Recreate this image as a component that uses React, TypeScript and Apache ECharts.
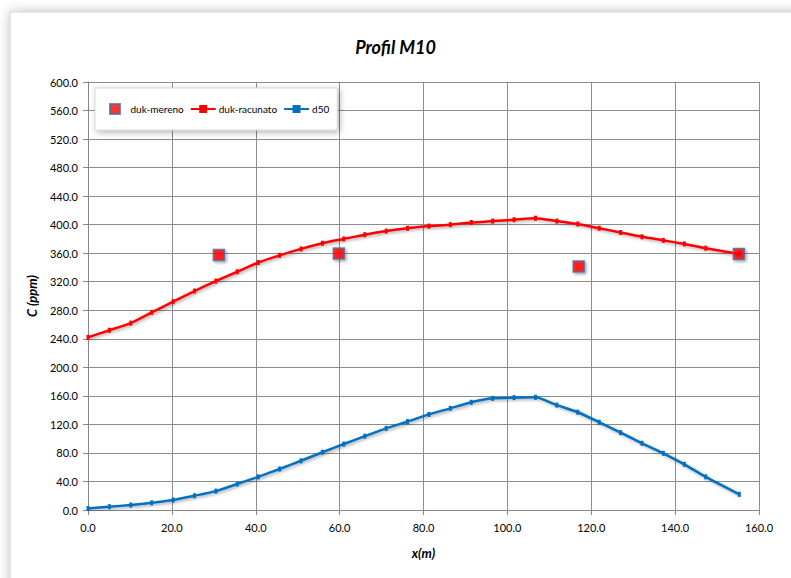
import React, { useEffect, useRef } from "react";
import * as echarts from "echarts";

const title = "Profil M10";
const xName = "x(m)";
const yName = "C (ppm)";
const seriesNames = ["duk-mereno", "duk-racunato", "d50"];

// measured points (x, C)
const measuredX = [31.2, 59.8, 117.0, 155.2];
const measuredY = [357.5, 359.5, 341.5, 359.0];

// computed profile x positions
const profileX = [
  0, 5.1, 10.2, 15.2, 20.3, 25.4, 30.5, 35.6, 40.6, 45.7, 50.8, 55.9, 61.0, 66.0, 71.1, 76.2,
  81.3, 86.4, 91.4, 96.5, 101.6, 106.7, 111.8, 116.8, 121.9, 127.0, 132.1, 137.2, 142.2, 147.3, 155.3,
];
const racunatoY = [
  242, 252, 262, 277, 292, 307, 321, 334, 347, 357, 366, 374, 380, 386, 391, 395,
  398, 400, 403, 405, 407, 409, 405, 401, 395, 389, 383, 378, 373, 367, 359,
];
const d50Y = [
  2, 4.6, 7, 10, 14, 20, 26.5, 36.5, 46.5, 57.5, 69, 81, 92.5, 103.5, 114.5, 124,
  134, 142.5, 151, 156.5, 157.5, 158, 147, 137, 123, 108.5, 93.5, 79.5, 64, 46.5, 22,
];

const FONT = "Lato, 'Open Sans', sans-serif";

export default function App() {
  const ref = useRef<HTMLDivElement>(null);
  useEffect(() => {
    if (!ref.current) return;
    const chart = echarts.init(ref.current, undefined, { renderer: "svg" });
    const pair = (xs: number[], ys: number[]) => xs.map((x, i) => [x, ys[i]]);
    chart.setOption({
      animation: false,
      backgroundColor: "#ffffff",
      textStyle: { fontFamily: FONT },
      graphic: [
        {
          type: "rect",
          z: -10,
          shape: { x: 10, y: 12, width: 800, height: 600 },
          style: {
            fill: "#ffffff",
            stroke: "#d0d0d0",
            lineWidth: 1,
            shadowBlur: 12,
            shadowColor: "rgba(0,0,0,0.25)",
            shadowOffsetX: 0,
            shadowOffsetY: 0,
          },
        },
      ],
      title: {
        text: title,
        left: "center",
        top: 33,
        textStyle: { fontFamily: FONT, fontSize: 18, fontWeight: "bold", fontStyle: "italic", color: "#000" },
      },
      legend: {
        left: 95,
        top: 88,
        padding: [15, 8, 15, 14],
        itemGap: 6,
        itemWidth: 25,
        itemHeight: 10,
        backgroundColor: "#ffffff",
        borderColor: "#d8d8d8",
        borderWidth: 1,
        shadowBlur: 6,
        shadowColor: "rgba(0,0,0,0.3)",
        shadowOffsetX: 2,
        shadowOffsetY: 2,
        textStyle: { fontFamily: FONT, fontSize: 10, color: "#000", padding: [0, 0, 0, -2] },
        data: [
          { name: seriesNames[0], icon: "path://M0,0L10,0L10,10L0,10Z" },
          seriesNames[1],
          seriesNames[2],
        ],
      },
      grid: { left: 88, right: 32, top: 82, bottom: 68, containLabel: false },
      xAxis: {
        type: "value",
        min: 0,
        max: 160,
        interval: 20,
        name: xName,
        nameLocation: "middle",
        nameGap: 36,
        nameTextStyle: { fontFamily: FONT, fontSize: 13, fontWeight: "bold", fontStyle: "italic", color: "#000" },
        axisLine: { show: true, onZero: false, lineStyle: { color: "#868686", width: 1 } },
        axisTick: { show: true, length: 5, lineStyle: { color: "#868686" } },
        splitLine: { show: true, lineStyle: { color: "#8c8c8c", width: 1 } },
        axisLabel: { formatter: (v: number) => v.toFixed(1), fontFamily: FONT, fontSize: 11, color: "#000", margin: 12 },
      },
      yAxis: {
        type: "value",
        min: 0,
        max: 600,
        interval: 40,
        name: yName,
        nameLocation: "middle",
        nameGap: 47,
        nameRotate: 90,
        nameTextStyle: { fontFamily: FONT, fontSize: 13, fontWeight: "bold", fontStyle: "italic", color: "#000" },
        axisLine: { show: true, lineStyle: { color: "#868686", width: 1 } },
        axisTick: { show: true, length: 5, lineStyle: { color: "#868686" } },
        splitLine: { show: true, lineStyle: { color: "#8c8c8c", width: 1 } },
        axisLabel: { formatter: (v: number) => v.toFixed(1), fontFamily: FONT, fontSize: 11, color: "#000", margin: 10 },
      },
      series: [
        {
          name: seriesNames[0],
          type: "scatter",
          data: pair(measuredX, measuredY),
          symbol: "rect",
          symbolSize: 11,
          z: 5,
          itemStyle: {
            color: "#ff0000",
            borderColor: "#4a6fa5",
            borderWidth: 1.5,
            shadowBlur: 3,
            shadowColor: "rgba(0,0,0,0.45)",
            shadowOffsetX: 1.5,
            shadowOffsetY: 1.5,
          },
        },
        {
          name: seriesNames[1],
          type: "line",
          data: pair(profileX, racunatoY),
          smooth: 0.2,
          symbol: "rect",
          symbolSize: [3, 5],
          showSymbol: true,
          lineStyle: {
            color: "#ff0000",
            width: 2.5,
            shadowBlur: 3,
            shadowColor: "rgba(0,0,0,0.35)",
            shadowOffsetX: 1.5,
            shadowOffsetY: 1.5,
          },
          itemStyle: { color: "#ff0000" },
        },
        {
          name: seriesNames[2],
          type: "line",
          data: pair(profileX, d50Y),
          smooth: 0.2,
          symbol: "rect",
          symbolSize: [3, 5],
          showSymbol: true,
          lineStyle: {
            color: "#0070c0",
            width: 2.5,
            shadowBlur: 3,
            shadowColor: "rgba(0,0,0,0.35)",
            shadowOffsetX: 1.5,
            shadowOffsetY: 1.5,
          },
          itemStyle: { color: "#0070c0" },
        },
      ],
    });
    return () => chart.dispose();
  }, []);
  return (
    <div
      ref={ref}
      style={{ position: "absolute", left: 0, top: 0, width: 791, height: 578 }}
    />
  );
}
